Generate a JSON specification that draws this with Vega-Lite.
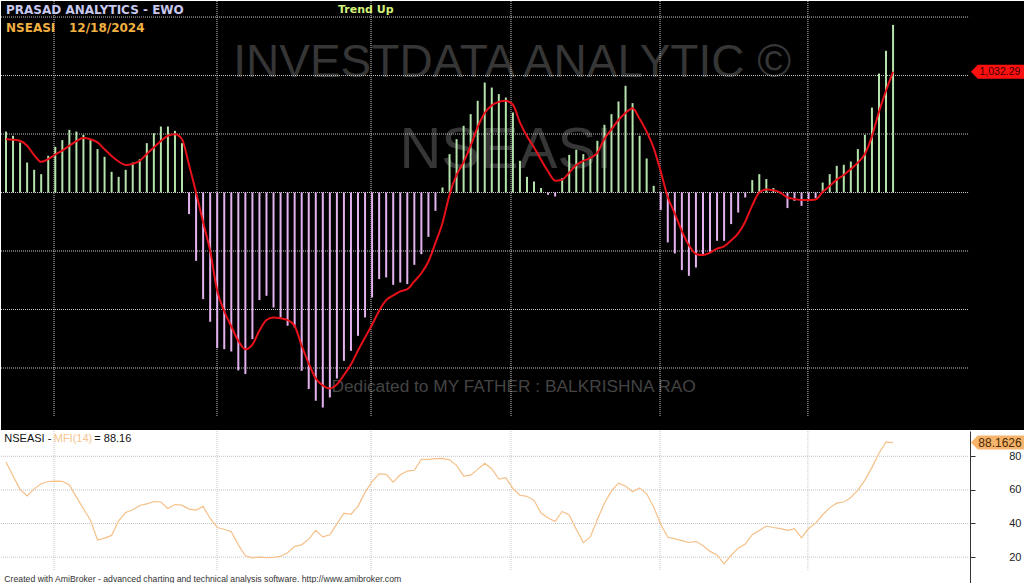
{
"$schema": "https://vega.github.io/schema/vega-lite/v6.json",
"background": "white",
"padding": 0,
"spacing": 0,
"config": {"view": {"stroke": null}, "concat": {"spacing": 0}},
"datasets": {
"d": [
{"n":1,"ewo":521,"sig":456,"mfi":76.6},{"n":2,"ewo":485,"sig":452,"mfi":68.3},{"n":3,"ewo":427,"sig":442,"mfi":60.3},{"n":4,"ewo":256,"sig":400,"mfi":56.4},{"n":5,"ewo":194,"sig":320,"mfi":60.6},{"n":6,"ewo":157,"sig":262,"mfi":63.7},{"n":7,"ewo":314,"sig":285,"mfi":65.0},{"n":8,"ewo":391,"sig":325,"mfi":65.2},{"n":9,"ewo":448,"sig":358,"mfi":65.1},{"n":10,"ewo":536,"sig":400,"mfi":63.0},
{"n":11,"ewo":521,"sig":440,"mfi":55.7},{"n":12,"ewo":493,"sig":465,"mfi":48.8},{"n":13,"ewo":448,"sig":455,"mfi":41.9},{"n":14,"ewo":371,"sig":428,"mfi":30.2},{"n":15,"ewo":305,"sig":370,"mfi":31.3},{"n":16,"ewo":177,"sig":312,"mfi":32.9},{"n":17,"ewo":134,"sig":265,"mfi":41.6},{"n":18,"ewo":194,"sig":235,"mfi":46.6},{"n":19,"ewo":256,"sig":245,"mfi":48.2},{"n":20,"ewo":285,"sig":271,"mfi":50.7},
{"n":21,"ewo":422,"sig":330,"mfi":51.7},{"n":22,"ewo":508,"sig":385,"mfi":53.1},{"n":23,"ewo":564,"sig":440,"mfi":52.8},{"n":24,"ewo":564,"sig":485,"mfi":48.9},{"n":25,"ewo":527,"sig":498,"mfi":51.3},{"n":26,"ewo":422,"sig":455,"mfi":50.9},{"n":27,"ewo":-185,"sig":235,"mfi":48.6},{"n":28,"ewo":-584,"sig":0,"mfi":48.0},{"n":29,"ewo":-911,"sig":-255,"mfi":50.2},{"n":30,"ewo":-1105,"sig":-500,"mfi":43.0},
{"n":31,"ewo":-1330,"sig":-840,"mfi":37.6},{"n":32,"ewo":-1339,"sig":-1015,"mfi":36.6},{"n":33,"ewo":-1359,"sig":-1145,"mfi":35.1},{"n":34,"ewo":-1521,"sig":-1268,"mfi":27.3},{"n":35,"ewo":-1552,"sig":-1340,"mfi":20.8},{"n":36,"ewo":-1253,"sig":-1300,"mfi":19.6},{"n":37,"ewo":-920,"sig":-1180,"mfi":20.0},{"n":38,"ewo":-883,"sig":-1090,"mfi":19.6},{"n":39,"ewo":-983,"sig":-1068,"mfi":19.8},{"n":40,"ewo":-1068,"sig":-1075,"mfi":20.5},
{"n":41,"ewo":-1139,"sig":-1090,"mfi":22.6},{"n":42,"ewo":-1154,"sig":-1140,"mfi":26.4},{"n":43,"ewo":-1524,"sig":-1310,"mfi":27.3},{"n":44,"ewo":-1680,"sig":-1460,"mfi":30.7},{"n":45,"ewo":-1780,"sig":-1590,"mfi":35.9},{"n":46,"ewo":-1838,"sig":-1650,"mfi":32.0},{"n":47,"ewo":-1752,"sig":-1675,"mfi":33.3},{"n":48,"ewo":-1590,"sig":-1640,"mfi":39.8},{"n":49,"ewo":-1439,"sig":-1560,"mfi":46.1},{"n":50,"ewo":-1353,"sig":-1470,"mfi":45.5},
{"n":51,"ewo":-1225,"sig":-1350,"mfi":50.2},{"n":52,"ewo":-1068,"sig":-1240,"mfi":58.5},{"n":53,"ewo":-897,"sig":-1130,"mfi":65.0},{"n":54,"ewo":-740,"sig":-1010,"mfi":69.5},{"n":55,"ewo":-726,"sig":-920,"mfi":69.2},{"n":56,"ewo":-789,"sig":-880,"mfi":64.6},{"n":57,"ewo":-769,"sig":-845,"mfi":69.0},{"n":58,"ewo":-783,"sig":-826,"mfi":71.2},{"n":59,"ewo":-618,"sig":-760,"mfi":71.7},{"n":60,"ewo":-527,"sig":-690,"mfi":78.2},
{"n":61,"ewo":-379,"sig":-590,"mfi":78.2},{"n":62,"ewo":-157,"sig":-430,"mfi":78.6},{"n":63,"ewo":43,"sig":-260,"mfi":78.8},{"n":64,"ewo":328,"sig":-20,"mfi":77.9},{"n":65,"ewo":456,"sig":150,"mfi":74.6},{"n":66,"ewo":570,"sig":260,"mfi":68.2},{"n":67,"ewo":670,"sig":400,"mfi":68.8},{"n":68,"ewo":784,"sig":560,"mfi":72.2},{"n":69,"ewo":940,"sig":680,"mfi":75.8},{"n":70,"ewo":897,"sig":745,"mfi":72.6},
{"n":71,"ewo":841,"sig":775,"mfi":66.5},{"n":72,"ewo":812,"sig":784,"mfi":67.3},{"n":73,"ewo":684,"sig":750,"mfi":60.8},{"n":74,"ewo":271,"sig":600,"mfi":56.8},{"n":75,"ewo":134,"sig":480,"mfi":56.2},{"n":76,"ewo":94,"sig":385,"mfi":53.8},{"n":77,"ewo":38,"sig":280,"mfi":46.2},{"n":78,"ewo":-20,"sig":180,"mfi":43.3},{"n":79,"ewo":-34,"sig":100,"mfi":41.2},{"n":80,"ewo":123,"sig":110,"mfi":47.2},
{"n":81,"ewo":322,"sig":170,"mfi":45.1},{"n":82,"ewo":365,"sig":235,"mfi":36.6},{"n":83,"ewo":328,"sig":270,"mfi":28.6},{"n":84,"ewo":299,"sig":295,"mfi":32.0},{"n":85,"ewo":442,"sig":340,"mfi":42.4},{"n":86,"ewo":579,"sig":460,"mfi":52.1},{"n":87,"ewo":670,"sig":540,"mfi":59.4},{"n":88,"ewo":778,"sig":620,"mfi":64.0},{"n":89,"ewo":912,"sig":680,"mfi":62.3},{"n":90,"ewo":764,"sig":720,"mfi":58.9},
{"n":91,"ewo":485,"sig":630,"mfi":61.2},{"n":92,"ewo":291,"sig":520,"mfi":57.7},{"n":93,"ewo":57,"sig":380,"mfi":49.8},{"n":94,"ewo":-150,"sig":180,"mfi":39.6},{"n":95,"ewo":-427,"sig":-40,"mfi":31.8},{"n":96,"ewo":-521,"sig":-180,"mfi":30.8},{"n":97,"ewo":-663,"sig":-330,"mfi":29.8},{"n":98,"ewo":-712,"sig":-450,"mfi":28.7},{"n":99,"ewo":-641,"sig":-525,"mfi":29.4},{"n":100,"ewo":-541,"sig":-535,"mfi":26.7},
{"n":101,"ewo":-513,"sig":-515,"mfi":23.4},{"n":102,"ewo":-413,"sig":-480,"mfi":21.3},{"n":103,"ewo":-413,"sig":-460,"mfi":16.0},{"n":104,"ewo":-270,"sig":-410,"mfi":21.1},{"n":105,"ewo":-171,"sig":-350,"mfi":25.3},{"n":106,"ewo":-43,"sig":-250,"mfi":27.8},{"n":107,"ewo":106,"sig":-110,"mfi":33.3},{"n":108,"ewo":157,"sig":0,"mfi":35.9},{"n":109,"ewo":115,"sig":25,"mfi":38.5},{"n":110,"ewo":38,"sig":20,"mfi":37.6},
{"n":111,"ewo":-10,"sig":0,"mfi":36.9},{"n":112,"ewo":-133,"sig":-43,"mfi":35.9},{"n":113,"ewo":-71,"sig":-55,"mfi":36.9},{"n":114,"ewo":-114,"sig":-65,"mfi":31.5},{"n":115,"ewo":-70,"sig":-65,"mfi":37.0},{"n":116,"ewo":-48,"sig":-60,"mfi":40.2},{"n":117,"ewo":85,"sig":5,"mfi":45.2},{"n":118,"ewo":157,"sig":55,"mfi":49.3},{"n":119,"ewo":228,"sig":110,"mfi":52.1},{"n":120,"ewo":237,"sig":150,"mfi":52.8},
{"n":121,"ewo":265,"sig":200,"mfi":55.5},{"n":122,"ewo":371,"sig":255,"mfi":59.9},{"n":123,"ewo":493,"sig":330,"mfi":65.8},{"n":124,"ewo":726,"sig":480,"mfi":73.4},{"n":125,"ewo":1017,"sig":690,"mfi":81.8},{"n":126,"ewo":1211,"sig":870,"mfi":88.4},{"n":127,"ewo":1433,"sig":1032.29,"mfi":88.16}
],
"vgrid": [{"g":7.82},{"g":30.97},{"g":52.85},{"g":72.73},{"g":93.9},{"g":114.9}],
"hgrid1": [{"v":1500},{"v":1000},{"v":500},{"v":0},{"v":-500},{"v":-1000},{"v":-1500}],
"hgrid2": [{"v":80},{"v":60},{"v":40},{"v":20}]
},
"vconcat": [
{
"width": 1024, "height": 429,
"view": {"fill": "black", "stroke": null},
"layer": [
{"data": {"values": [{}]}, "mark": {"type": "text", "text": "INVESTDATA ANALYTIC ©", "font": "Liberation Sans", "fontSize": 46, "color": "#363636", "align": "center", "baseline": "alphabetic"},
 "encoding": {"x": {"datum": 72.9, "type": "quantitative", "scale": {"domain": [0.29, 145.74], "nice": false, "zero": false}, "axis": null}, "y": {"datum": 987, "type": "quantitative", "scale": {"domain": [-2030, 1637], "nice": false, "zero": false}, "axis": null}}},
{"data": {"values": [{}]}, "mark": {"type": "text", "text": "NSEASI", "font": "Liberation Sans", "fontSize": 58, "color": "#363636", "align": "center", "baseline": "alphabetic"},
 "encoding": {"x": {"datum": 72.0, "type": "quantitative"}, "y": {"datum": 209, "type": "quantitative"}}},
{"data": {"values": [{}]}, "mark": {"type": "text", "text": "Dedicated to MY FATHER : BALKRISHNA RAO", "font": "Liberation Sans", "fontSize": 17.3, "color": "#444444", "align": "center", "baseline": "alphabetic"},
 "encoding": {"x": {"datum": 73.1, "type": "quantitative"}, "y": {"datum": -1705, "type": "quantitative"}}},
{"data": {"name": "hgrid1"}, "mark": {"type": "rule", "color": "#c8c8c8", "strokeWidth": 1, "strokeDash": [1, 1]},
 "encoding": {"y": {"field": "v", "type": "quantitative"}, "x": {"datum": 0.29, "type": "quantitative"}, "x2": {"datum": 137.8}}},
{"data": {"name": "vgrid"}, "mark": {"type": "rule", "color": "#c8c8c8", "strokeWidth": 1, "strokeDash": [1, 1]},
 "encoding": {"x": {"field": "g", "type": "quantitative"}, "y": {"datum": 1637, "type": "quantitative"}, "y2": {"datum": -1910}}},
{"data": {"name": "d"}, "mark": {"type": "rule", "strokeWidth": 2},
 "encoding": {"x": {"field": "n", "type": "quantitative"}, "y": {"field": "ewo", "type": "quantitative"}, "y2": {"datum": 0},
  "color": {"condition": {"test": "datum.ewo >= 0", "value": "#b4e4ac"}, "value": "#e4b2ee"}}},
{"data": {"name": "d"}, "mark": {"type": "line", "color": "#e8101a", "strokeWidth": 2, "interpolate": "monotone"},
 "encoding": {"x": {"field": "n", "type": "quantitative"}, "y": {"field": "sig", "type": "quantitative"}}},
{"data": {"values": [{}]}, "mark": {"type": "text", "text": "PRASAD ANALYTICS - EWO", "font": "DejaVu Sans", "fontWeight": "bold", "fontSize": 12, "color": "#c8c8f0", "align": "left", "baseline": "middle"},
 "encoding": {"x": {"datum": 1, "type": "quantitative"}, "y": {"datum": 1560, "type": "quantitative"}}},
{"data": {"values": [{}]}, "mark": {"type": "text", "text": "NSEASI", "font": "DejaVu Sans", "fontWeight": "bold", "fontSize": 12, "color": "#f2b040", "align": "left", "baseline": "middle"},
 "encoding": {"x": {"datum": 1, "type": "quantitative"}, "y": {"datum": 1406, "type": "quantitative"}}},
{"data": {"values": [{}]}, "mark": {"type": "text", "text": "12/18/2024", "font": "DejaVu Sans", "fontWeight": "bold", "fontSize": 12, "color": "#f2b040", "align": "left", "baseline": "middle"},
 "encoding": {"x": {"datum": 9.95, "type": "quantitative"}, "y": {"datum": 1406, "type": "quantitative"}}},
{"data": {"values": [{}]}, "mark": {"type": "text", "text": "Trend Up", "font": "DejaVu Sans", "fontWeight": "bold", "fontSize": 11, "color": "#d4f07a", "align": "left", "baseline": "middle"},
 "encoding": {"x": {"datum": 48.16, "type": "quantitative"}, "y": {"datum": 1560, "type": "quantitative"}}},
{"data": {"values": [{}]}, "mark": {"type": "point", "shape": "M -1 0 L -0.75 -0.26 L 1 -0.26 L 1 0.26 L -0.75 0.26 Z", "size": 2916, "filled": true, "color": "#ff1010", "opacity": 1},
 "encoding": {"x": {"datum": 141.9, "type": "quantitative"}, "y": {"datum": 1032.29, "type": "quantitative"}}},
{"data": {"values": [{}]}, "mark": {"type": "text", "text": "1,032.29", "font": "Liberation Sans", "fontSize": 10.5, "color": "#3a0000", "align": "center", "baseline": "middle", "dx": 2},
 "encoding": {"x": {"datum": 141.9, "type": "quantitative"}, "y": {"datum": 1032.29, "type": "quantitative"}}}
]
},
{
"width": 1024, "height": 154,
"view": {"fill": "white", "stroke": null},
"layer": [
{"data": {"name": "hgrid2"}, "mark": {"type": "rule", "color": "#c4c4c4", "strokeWidth": 1, "strokeDash": [1, 1]},
 "encoding": {"y": {"field": "v", "type": "quantitative", "scale": {"domain": [3.39, 95.06], "nice": false, "zero": false}, "axis": {"orient": "right", "offset": -55, "values": [20, 40, 60, 80], "grid": false, "title": null, "domainColor": "#333333", "tickColor": "#333333", "tickSize": 5, "labelAlign": "right", "labelPadding": 46, "labelFont": "Liberation Sans", "labelFontSize": 11, "labelColor": "#222222"}},
  "x": {"datum": 0.29, "type": "quantitative", "scale": {"domain": [0.29, 145.74], "nice": false, "zero": false}, "axis": null}, "x2": {"datum": 137.8}}},
{"data": {"name": "vgrid"}, "mark": {"type": "rule", "color": "#c4c4c4", "strokeWidth": 1, "strokeDash": [1, 1]},
 "encoding": {"x": {"field": "g", "type": "quantitative"}, "y": {"datum": 95.06, "type": "quantitative"}, "y2": {"datum": 12.3}}},
{"data": {"name": "d"}, "mark": {"type": "line", "color": "#f5c088", "strokeWidth": 1.2},
 "encoding": {"x": {"field": "n", "type": "quantitative"}, "y": {"field": "mfi", "type": "quantitative"}}},
{"data": {"values": [{}]}, "mark": {"type": "text", "text": "NSEASI -", "font": "Liberation Sans", "fontSize": 11, "color": "#111111", "align": "left", "baseline": "middle"},
 "encoding": {"x": {"datum": 0.76, "type": "quantitative"}, "y": {"datum": 90.3, "type": "quantitative"}}},
{"data": {"values": [{}]}, "mark": {"type": "text", "text": "MFI(14)", "font": "Liberation Sans", "fontSize": 11, "color": "#f5c590", "align": "left", "baseline": "middle"},
 "encoding": {"x": {"datum": 7.78, "type": "quantitative"}, "y": {"datum": 90.3, "type": "quantitative"}}},
{"data": {"values": [{}]}, "mark": {"type": "text", "text": "= 88.16", "font": "Liberation Sans", "fontSize": 11, "color": "#111111", "align": "left", "baseline": "middle"},
 "encoding": {"x": {"datum": 13.54, "type": "quantitative"}, "y": {"datum": 90.3, "type": "quantitative"}}},
{"data": {"values": [{}]}, "mark": {"type": "text", "text": "Created with AmiBroker - advanced charting and technical analysis software. http://www.amibroker.com", "font": "Liberation Sans", "fontSize": 8.7, "color": "#333333", "align": "left", "baseline": "middle"},
 "encoding": {"x": {"datum": 0.76, "type": "quantitative"}, "y": {"datum": 6.96, "type": "quantitative"}}},
{"data": {"values": [{}]}, "mark": {"type": "point", "shape": "M -1 0 L -0.75 -0.26 L 1 -0.26 L 1 0.26 L -0.75 0.26 Z", "size": 2916, "filled": true, "color": "#f7b46c", "opacity": 1},
 "encoding": {"x": {"datum": 141.9, "type": "quantitative"}, "y": {"datum": 88.2, "type": "quantitative"}}},
{"data": {"values": [{}]}, "mark": {"type": "text", "text": "88.1626", "font": "Liberation Sans", "fontSize": 12, "color": "#4a2a00", "align": "center", "baseline": "middle", "dx": 2},
 "encoding": {"x": {"datum": 141.9, "type": "quantitative"}, "y": {"datum": 88.2, "type": "quantitative"}}}
]
}
]
}
